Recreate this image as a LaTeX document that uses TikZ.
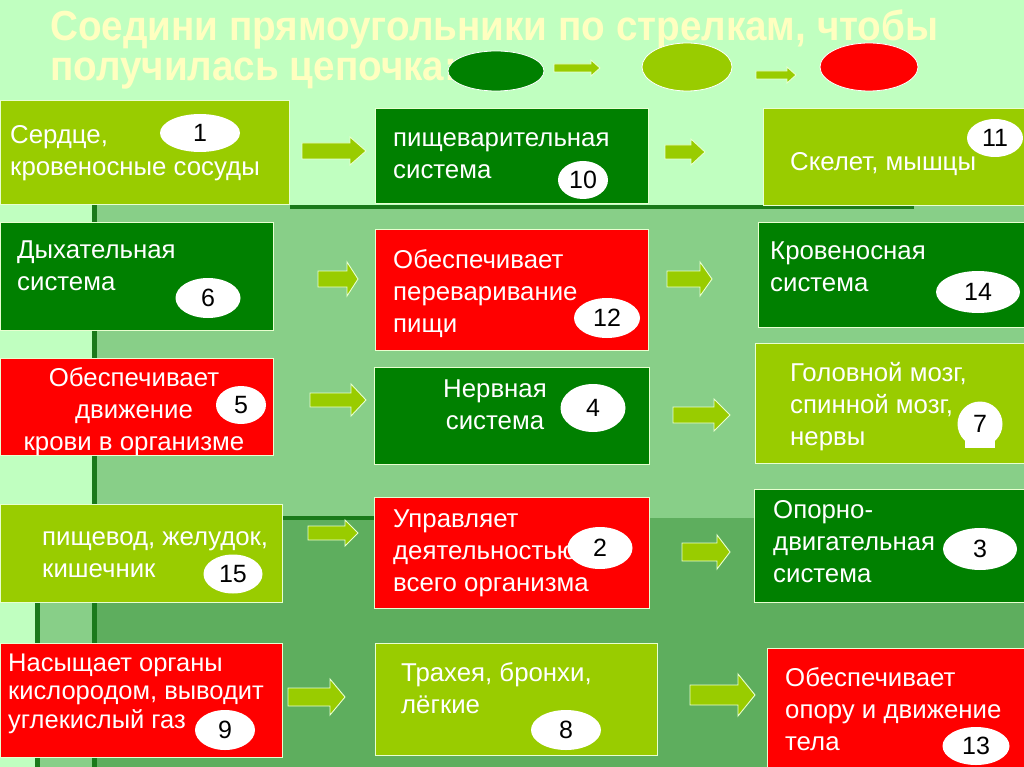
\documentclass[tikz,border=0pt]{standalone}
\usepackage{fontspec}
\setmainfont{Liberation Sans}
\newfontfamily\titlefont{Liberation Sans}[FakeStretch=0.92]
\usetikzlibrary{shapes.geometric}
\definecolor{bgLight}{HTML}{C0FFC0}
\definecolor{bgMid}{HTML}{88CF88}
\definecolor{bgDark}{HTML}{5EAE5E}
\definecolor{bgLine}{HTML}{1A7A1A}
\definecolor{limeC}{HTML}{99CC00}
\definecolor{dgreenC}{HTML}{008000}
\definecolor{redC}{HTML}{FF0000}
\definecolor{edgeC}{HTML}{E8FFD0}
\definecolor{titleC}{HTML}{FFFFC0}
\newcommand\boxfont{\fontsize{25.8}{32}\selectfont}
\newcommand\smallboxfont{\fontsize{25.5}{28.5}\selectfont}
\newcommand\numfont{\fontsize{25}{28}\selectfont}
\newcommand\ttlfont{\titlefont\bfseries\fontsize{42}{42}\selectfont}
% block arrow: x1, x2, yc, body half, head half, head length
\newcommand\blockarrow[6]{%
  \draw[barrow] (#1,#3-#4) -- (#2-#6,#3-#4) -- (#2-#6,#3-#5) -- (#2,#3)
    -- (#2-#6,#3+#5) -- (#2-#6,#3+#4) -- (#1,#3+#4) -- cycle;}
\tikzset{
  tile/.style={draw=edgeC, line width=0.9pt, anchor=north west, inner sep=0pt},
  txt/.style={anchor=north west, inner sep=0pt, align=left, text=white, font=\boxfont},
  ctxt/.style={anchor=north, inner sep=0pt, align=center, text=white, font=\boxfont},
  oval/.style={ellipse, fill=white, inner sep=0pt, font=\numfont, text=black},
  barrow/.style={fill=limeC, draw=edgeC, line width=0.9pt, line join=miter},
  topoval/.style={ellipse, draw=white, line width=0.8pt, inner sep=0pt},
  ttl/.style={anchor=base west, inner sep=0pt, text=titleC, font=\ttlfont},
}
\begin{document}
\begin{tikzpicture}[x=1pt,y=-1pt]
\useasboundingbox (0,0) rectangle (1024,767);
% background
\fill[bgLight] (0,0) rectangle (1024,767);
\fill[bgMid] (97,205) rectangle (1024,767);
\fill[bgDark] (97,518) rectangle (1024,767);
\fill[bgMid] (37,540) rectangle (97,767);
\fill[bgLine] (92,205) rectangle (97,767);
\fill[bgLine] (35,540) rectangle (40,767);
\fill[bgLine] (290,205) rectangle (914,209);
\fill[bgLine] (97,516) rectangle (380,520);

% title
\node[ttl] (t1) at (50,41) {Соедини прямоугольники по стрелкам, чтобы};
\node[ttl] (t2) at (50,81) {получилась цепочка:};
\node[topoval, fill=dgreenC, minimum width=96pt, minimum height=40pt] (e1) at (496,71) {};
\node[topoval, fill=limeC, minimum width=90pt, minimum height=48pt] (e2) at (687,67) {};
\node[topoval, fill=redC, minimum width=98pt, minimum height=48pt] (e3) at (869,67) {};
\blockarrow{554}{600}{68}{4}{8}{9}
\blockarrow{756}{796}{75}{4}{8}{9}

% row 1
\node[tile, fill=limeC, minimum width=289pt, minimum height=104pt] (A) at (0,100) {};
\node[txt] (tA) at (10,121) {\strut Сердце,\\кровеносные сосуды};
\node[oval, minimum width=80pt, minimum height=38pt] (n1) at (200,133) {1};
\node[tile, fill=dgreenC, minimum width=273pt, minimum height=95pt] (B) at (375,108) {};
\node[txt] (tB) at (393,124) {\strut пищеварительная\\система};
\node[oval, minimum width=50pt, minimum height=38pt] (n10) at (583,180) {10};
\node[tile, fill=limeC, minimum width=262pt, minimum height=97pt] (C) at (763,108) {};
\node[txt] (tC) at (790,148) {\strut Скелет, мышцы};
\node[oval, minimum width=56pt, minimum height=38pt] (n11) at (995,138) {11};
\blockarrow{302}{366}{151}{8}{14}{16}
\blockarrow{665}{705}{152}{7}{13}{14}

% row 2
\node[tile, fill=dgreenC, minimum width=273pt, minimum height=108pt] (D) at (0,222) {};
\node[txt] (tD) at (17,236) {\strut Дыхательная\\система};
\node[oval, minimum width=65pt, minimum height=40pt] (n6) at (208,298) {6};
\node[tile, fill=redC, minimum width=273pt, minimum height=121pt] (E) at (375,229) {};
\node[txt] (tE) at (393,246) {\strut Обеспечивает\\переваривание\\пищи};
\node[oval, minimum width=66pt, minimum height=40pt] (n12) at (607,318) {12};
\node[tile, fill=dgreenC, minimum width=266pt, minimum height=105pt] (F) at (758,222) {};
\node[txt] (tF) at (770,237) {\strut Кровеносная\\система};
\node[oval, minimum width=84pt, minimum height=42pt] (n14) at (978,292) {14};
\blockarrow{318}{358}{279}{8}{17}{11}
\blockarrow{667}{712}{279}{8}{17}{12}

% row 3
\node[tile, fill=redC, minimum width=273pt, minimum height=97pt] (G) at (0,358) {};
\node[ctxt] (tG) at (134,364) {\strut Обеспечивает\\движение\\крови в организме};
\node[oval, minimum width=50pt, minimum height=38pt] (n5) at (241,405) {5};
\node[tile, fill=dgreenC, minimum width=275pt, minimum height=97pt] (H) at (374,367) {};
\node[ctxt] (tH) at (495,375) {\strut Нервная\\система};
\node[oval, minimum width=65pt, minimum height=48pt] (n4) at (593,408) {4};
\node[tile, fill=limeC, minimum width=269pt, minimum height=120pt] (I) at (755,343) {};
\node[txt] (tI) at (790,359) {\strut Головной мозг,\\спинной мозг,\\нервы};
\fill[white] (965,436) rectangle (995,448);
\node[circle, fill=white, inner sep=0pt, minimum size=45pt, font=\numfont, text=black] (n7) at (980,424) {7};
\blockarrow{310}{366}{400}{7}{16}{15}
\blockarrow{673}{730}{415}{8}{16}{16}

% row 4
\node[tile, fill=limeC, minimum width=282pt, minimum height=98pt] (J) at (0,504) {};
\node[txt] (tJ) at (42,523) {\strut пищевод, желудок,\\кишечник};
\node[oval, minimum width=59pt, minimum height=39pt] (n15) at (233,574) {15};
\node[tile, fill=redC, minimum width=275pt, minimum height=111pt] (K) at (374,497) {};
\node[txt] (tK) at (393,505) {\strut Управляет\\деятельностью\\всего организма};
\node[oval, minimum width=65pt, minimum height=42pt] (n2) at (600,548) {2};
\node[tile, fill=dgreenC, minimum width=270pt, minimum height=113pt] (L) at (754,489) {};
\node[txt] (tL) at (773,496) {\strut Опорно-\\двигательная\\система};
\node[oval, minimum width=74pt, minimum height=42pt] (n3) at (980,549) {3};
\blockarrow{308}{358}{533}{7}{13}{13}
\blockarrow{682}{730}{552}{9}{17}{13}

% row 5
\node[tile, fill=redC, minimum width=282pt, minimum height=114pt] (M) at (0,643) {};
\node[txt, font=\smallboxfont] (tM) at (8,651) {\strut Насыщает органы\\кислородом, выводит\\углекислый газ};
\node[oval, minimum width=60pt, minimum height=40pt] (n9) at (225,730) {9};
\node[tile, fill=limeC, minimum width=282pt, minimum height=112pt] (N) at (375,643) {};
\node[txt] (tN) at (401,659) {\strut Трахея, бронхи,\\лёгкие};
\node[oval, minimum width=70pt, minimum height=40pt] (n8) at (566,730) {8};
\node[tile, fill=redC, minimum width=257pt, minimum height=125pt] (O) at (767,648) {};
\node[txt] (tO) at (785,664) {\strut Обеспечивает\\опору и движение\\тела};
\node[oval, minimum width=67pt, minimum height=38pt] (n13) at (976,746) {13};
\blockarrow{288}{345}{697}{9}{18}{15}
\blockarrow{690}{755}{695}{10}{21}{17}
\end{tikzpicture}
\end{document}
